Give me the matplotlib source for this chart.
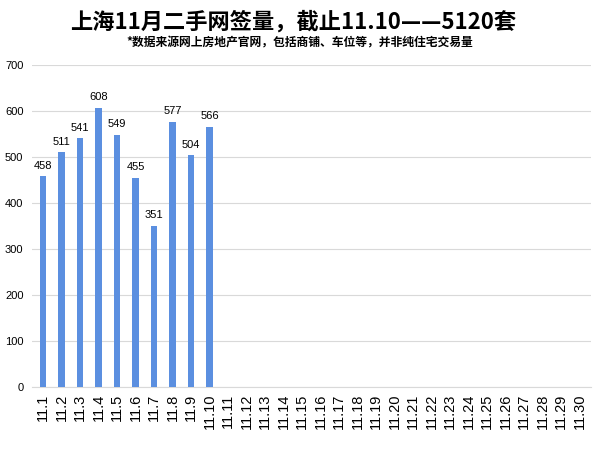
import matplotlib
matplotlib.use("Agg")
import matplotlib.pyplot as plt

plt.rcParams['font.family'] = ['Noto Sans CJK SC', 'DejaVu Sans']

days = ["11.%d" % d for d in range(1, 31)]
sales = [458, 511, 541, 608, 549, 455, 351, 577, 504, 566]

fig = plt.figure(figsize=(6, 4.5), dpi=100)
ax = fig.add_axes([0.053, 0.14, 0.932, 0.715])

x = list(range(len(days)))
bars = ax.bar(x[:len(sales)], sales, width=0.36, color="#5b8fe0", zorder=3)
for xi, v in zip(x, sales):
    ax.text(xi, v + 12, str(v), ha="center", va="bottom", fontsize=8,
            family="Liberation Sans")

ax.set_xlim(-0.6, len(days) - 0.4)
ax.set_ylim(0, 700)
ax.set_yticks(range(0, 701, 100))
ax.set_xticks(x)
ax.set_xticklabels(days, rotation=90, fontsize=10.5, family="Liberation Sans")
for lab in ax.get_yticklabels():
    lab.set_family("Liberation Sans")
    lab.set_fontsize(8)
ax.tick_params(length=0, pad=6)
ax.tick_params(axis="x", pad=5)
ax.yaxis.grid(True, color="#d9d9d9", linewidth=0.8, zorder=0)
for s in ["top", "right", "left"]:
    ax.spines[s].set_visible(False)
ax.spines["bottom"].set_color("#d9d9d9")

fig.text(0.488, 0.952, "上海11月二手网签量，截止11.10——5120套", ha="center",
         va="center", fontsize=16, fontweight="bold")
fig.text(0.5, 0.905, "*数据来源网上房地产官网，包括商铺、车位等，并非纯住宅交易量",
         ha="center", va="center", fontsize=8.5, fontweight="bold")

fig.savefig("out.png", dpi=100)
